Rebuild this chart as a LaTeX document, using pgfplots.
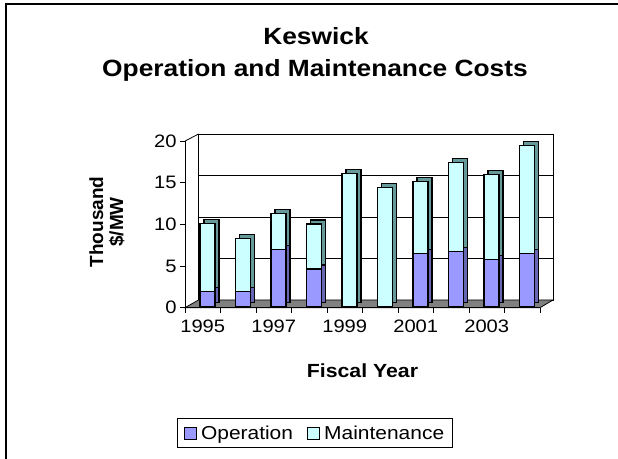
\documentclass[border=0pt]{standalone}
\usepackage{pgfplots}
\pgfplotsset{compat=1.18}
\usepackage{pgfplotstable}
\usepackage{fontspec}
\setmainfont{Liberation Sans}[FakeStretch=1.12]
\newfontfamily\plainsans{Liberation Sans}

\definecolor{opfront}{HTML}{9999FF}
\definecolor{opside}{HTML}{6666B3}
\definecolor{mfront}{HTML}{CCFFFF}
\definecolor{mside}{HTML}{669999}
\definecolor{floorgray}{HTML}{808080}

% thousand $/MW per fiscal year
\pgfplotstableread{
year op  maint
1995 1.8 8.2
1996 1.8 6.4
1997 6.8 4.4
1998 4.5 5.4
1999 0.0 16.0
2000 0.0 14.3
2001 6.4 8.6
2002 6.6 10.7
2003 5.6 10.2
2004 6.4 12.9
}\costs

\pgfplotsset{
  keswick/.style={
    scale only axis, anchor=south west,
    width=355pt, height=166.7pt,
    xmin=1994.5, xmax=2004.5, ymin=0, ymax=20,
  },
  legsq/.style={legend image code/.code={%
    \draw[##1,draw=black,line width=1.2pt] (0pt,-6pt) rectangle (12pt,6pt);}},
}

\begin{document}
\begin{tikzpicture}
\useasboundingbox (0pt,0pt) rectangle (618pt,458pt);
\draw[line width=1.3pt] (6pt,-20pt) rectangle (650pt,454pt);

% back wall with grid
\begin{axis}[keswick, at={(198.5pt,158pt)}, width=354.5pt, height=166pt,
  axis background/.style={fill=white},
  xtick=\empty, ytick={5,10,15}, yticklabels={},
  major tick length=0pt, ymajorgrids, grid style={black, line width=0.6pt},
  axis line style={black, line width=0.8pt}]
\end{axis}

% floor
\filldraw[fill=floorgray, draw=black, line width=0.8pt]
  (185pt,150.3pt) -- (540pt,150.3pt) -- (553pt,158pt) -- (198.5pt,158pt) -- cycle;
\draw[line width=0.8pt] (185pt,316.9pt) -- (198.5pt,324pt);

% side and top faces of the columns
\begin{axis}[keswick, at={(193.7pt,155.5pt)}, hide axis, ybar stacked, bar width=15pt]
\addplot[fill=opside, draw=black, line width=1.2pt] table[x=year,y=op]{\costs};
\addplot[fill=mside, draw=black, line width=1.2pt] table[x=year,y=maint]{\costs};
\end{axis}

% front faces of the columns
\begin{axis}[keswick, at={(189.7pt,151.5pt)}, hide axis, ybar stacked, bar width=15pt,
  legend columns=2,
  legend style={at={(0.353,-0.761)}, anchor=center, draw=black, line width=0.8pt,
    font=\fontsize{18.7}{21}\selectfont, inner xsep=6pt, inner ysep=5pt,
    /tikz/every odd column/.append style={column sep=2pt},
    /tikz/every even column/.append style={column sep=12pt}}]
\addplot[fill=opfront, draw=black, line width=1.2pt, legsq] table[x=year,y=op]{\costs};
\addplot[fill=mfront, draw=black, line width=1.2pt, legsq] table[x=year,y=maint]{\costs};
\legend{Operation,Maintenance}
\end{axis}

% front axes, ticks and tick labels
\begin{axis}[keswick, at={(185pt,150.3pt)},
  axis x line*=bottom, axis y line*=left,
  axis line style={black, line width=0.8pt},
  tick align=outside, major tick length=5pt,
  tick style={black, line width=0.8pt},
  /pgf/number format/assume math mode=true,
  ticklabel style={font=\fontsize{18}{20}\selectfont},
  ytick={0,5,10,15,20},
  xtick={1994.5,1995.5,...,2004.5}, xticklabels={},
  extra x ticks={1995,1997,1999,2001,2003},
  extra x tick labels={1995,1997,1999,2001,2003},
  extra x tick style={major tick length=0pt, xticklabel style={yshift=-9pt}}]
\end{axis}

\node[anchor=base, font=\bfseries\fontsize{23.5}{26}\selectfont] at (316pt,413pt) {Keswick};
\node[anchor=base, font=\bfseries\fontsize{23.5}{26}\selectfont] at (315pt,381pt) {Operation and Maintenance Costs};
\node[rotate=90, align=center, font=\plainsans\bfseries\fontsize{19}{20}\selectfont] at (107pt,236pt) {Thousand\\\$/MW};
\node[anchor=base, font=\bfseries\fontsize{19}{22}\selectfont] at (362.5pt,81pt) {Fiscal Year};
\end{tikzpicture}
\end{document}
